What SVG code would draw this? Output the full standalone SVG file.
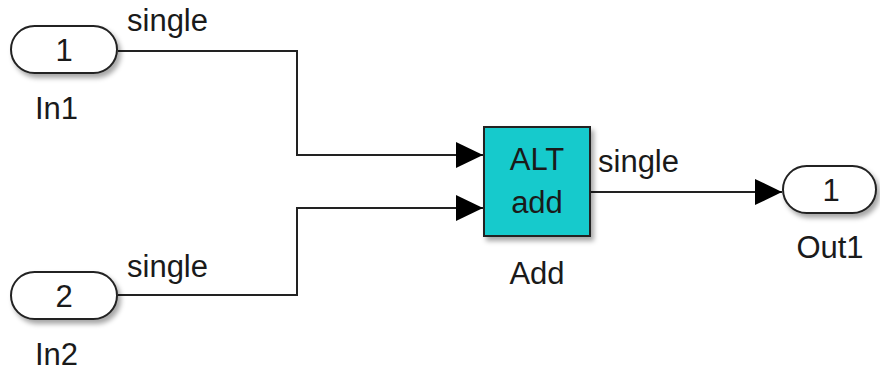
<svg xmlns="http://www.w3.org/2000/svg" width="880" height="371" viewBox="0 0 880 371">
<style>
text{font-family:"Liberation Sans",Arial,sans-serif;font-size:31px;fill:#1a1a1a}
.port{fill:#fff;stroke:#222;stroke-width:2}
.wire{fill:none;stroke:#222;stroke-width:2}
.mid{text-anchor:middle}
</style>
<defs>
<filter id="sh" x="-20%" y="-30%" width="150%" height="180%">
<feDropShadow dx="3" dy="4" stdDeviation="2.5" flood-color="#000" flood-opacity="0.35"/>
</filter>
<marker id="arr" markerUnits="userSpaceOnUse" markerWidth="28" markerHeight="28" refX="27" refY="13" orient="auto">
<path d="M0,0 L27,13 L0,26 Z" fill="#000"/>
</marker>
</defs>
<g id="connectors">
<path class="wire" d="M118,51 H297 V155 H483" marker-end="url(#arr)"/>
<path class="wire" d="M118,295 H297 V208 H483" marker-end="url(#arr)"/>
<path class="wire" d="M591,192 H782" marker-end="url(#arr)"/>
<text x="127" y="31">single</text>
<text x="127" y="277">single</text>
<text x="598" y="172">single</text>
</g>
<g id="In1">
<rect class="port" x="11" y="26" width="106" height="47" rx="23.5" filter="url(#sh)"/>
<text class="mid" x="64" y="61">1</text>
<text x="35" y="119">In1</text>
</g>
<g id="In2">
<rect class="port" x="11" y="272" width="106" height="47" rx="23.5" filter="url(#sh)"/>
<text class="mid" x="64" y="307">2</text>
<text x="35" y="365">In2</text>
</g>
<g id="Add">
<rect x="484" y="127" width="106" height="109" fill="#12CACC" stroke="#222" stroke-width="2" filter="url(#sh)"/>
<text class="mid" x="537" y="170">ALT</text>
<text class="mid" x="537" y="213">add</text>
<text class="mid" x="537" y="284">Add</text>
</g>
<g id="Out1">
<rect class="port" x="783" y="166" width="93" height="47" rx="23.5" filter="url(#sh)"/>
<text class="mid" x="831" y="201">1</text>
<text class="mid" x="830" y="258">Out1</text>
</g>
</svg>
